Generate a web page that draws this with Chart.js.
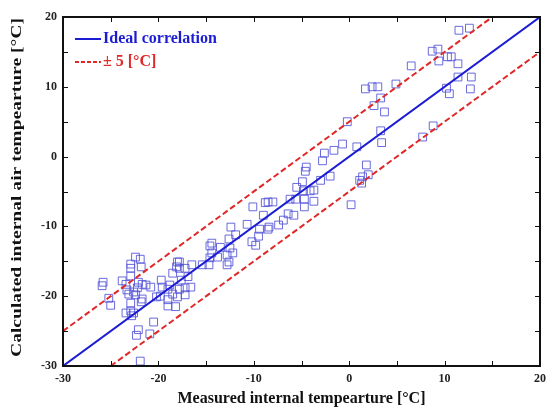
<!DOCTYPE html>
<html>
<head>
<meta charset="utf-8">
<script src="https://cdn.jsdelivr.net/npm/chart.js@4.4.1/dist/chart.umd.min.js"></script>
<style>
  html, body { margin: 0; padding: 0; background: #fff; }
  #wrap { width: 552px; height: 409px; }
</style>
</head>
<body>
<div id="wrap"><canvas id="c" width="552" height="409"></canvas></div>
<script>
// measured vs calculated internal air temperature [°C]
const measured = [
  11.5, 12.6, 8.7, 9.3, 9.4, 10.3, 10.7, 11.4, 11.4, 12.8, 10.2, 10.5, 12.7, 6.5,
  1.7, 2.4, 3.0, 4.9, 3.3, 2.6, 3.7, -0.2, 3.3, 3.4, 0.8, 7.7, 8.8, -0.7,
  -1.6, -2.6, -2.8, -4.5, -4.6, -2.0, -3.0, -4.9, -5.5, -4.8, -3.7, -4.1, -5.6, -4.7,
  -3.7, -6.2, -8.0, -8.5, -4.7, 0.2, 1.4, 1.1, 1.8, 2.0, 1.3, -5.8, -6.4, -6.9,
  -7.4, -8.4, -10.1, -8.8, -9.0, -10.7, -12.4, -11.9, -9.5, -8.5, -9.4, -9.8, -10.2, -12.6,
  -14.4, -14.6, -13.5, -12.5, -12.2, -12.8, -14.4, -14.6, -13.8, -12.6, -12.8, -15.4, -14.7, -16.5,
  -17.8, -17.8, -17.2, -16.9, -17.6, -17.2, -16.6, -17.8, -17.2, -22.4, -21.9, -22.9, -21.8, -22.9,
  -22.9, -25.8, -25.9, -23.8, -23.4, -22.1, -21.7, -21.3, -22.2, -23.3, -22.6, -20.8, -19.7, -18.8,
  -19.6, -18.0, -18.1, -18.5, -19.0, -18.5, -19.8, -23.1, -22.4, -21.7, -25.2, -25.0, -22.9, -19.0,
  -18.0, -19.0, -18.2, -22.9, -23.4, -22.6, -20.2, -22.1, -22.3, -20.9, -20.5, -21.9, -22.8, -21.8
];
const calculated = [
  18.1, 18.4, 15.1, 15.4, 13.7, 14.3, 14.3, 13.3, 11.4, 11.4, 9.8, 9.0, 9.7, 13.0,
  9.7, 10.0, 10.0, 10.4, 8.4, 7.3, 6.4, 5.0, 3.7, 2.0, 1.4, 2.8, 4.4, 1.8,
  0.9, 0.5, -0.6, -1.5, -2.1, -2.8, -3.4, -3.6, -4.4, -4.9, -4.8, -4.9, -6.1, -6.1,
  -6.4, -6.1, -6.5, -6.5, -7.2, -6.9, -2.9, -3.4, -1.2, -2.6, -3.8, -8.4, -8.2, -9.1,
  -9.8, -10.1, -7.2, -6.6, -8.4, -9.7, -10.1, -11.2, -11.4, -10.4, -10.4, -12.7, -12.2, -11.8,
  -12.4, -12.8, -13.0, -13.1, -13.8, -14.1, -13.8, -14.5, -14.4, -15.1, -15.5, -15.5, -15.5, -15.5,
  -15.1, -16.0, -16.0, -17.2, -17.7, -18.8, -18.7, -19.0, -19.8, -14.4, -14.7, -15.4, -15.8, -16.0,
  -17.1, -18.0, -18.5, -17.8, -18.3, -18.0, -18.3, -18.4, -18.8, -19.1, -19.4, -18.7, -17.7, -18.4,
  -18.7, -15.1, -15.8, -16.7, -19.0, -19.7, -20.0, -19.7, -19.8, -20.4, -20.3, -21.3, -21.0, -20.5,
  -20.1, -21.4, -21.5, -22.1, -22.4, -22.4, -20.1, -24.8, -25.6, -25.4, -23.7, -29.3, -22.8, -20.8
];

// reference lines
const idealX = [-30, 20];
const idealY = [-30, 20];
const upperX = [-30, 15];
const upperY = [-25, 20];
const lowerX = [-25, 20];
const lowerY = [-30, 15];

const axisMin = -30;
const axisMax = 20;
const tickStep = 5;
const labelStep = 10;

const xTitle = 'Measured internal tempearture [\u00b0C]';
const yTitle = 'Calculated internal air tempearture [\u00b0C]';

const serif = '"Liberation Serif", "Times New Roman", serif';
const blue = '#1c1cd4';
const red = '#e02828';
const dash = [6, 3];

function zip(xs, ys) {
  return xs.map((x, i) => ({ x: x, y: ys[i] }));
}

// frame + inward ticks on all four sides
const framePlugin = {
  id: 'frame',
  afterDraw(chart) {
    const { ctx, chartArea: a, scales } = chart;
    ctx.save();
    ctx.strokeStyle = '#111';
    ctx.lineWidth = 1;
    for (let v = axisMin; v <= axisMax; v += tickStep) {
      const px = Math.round(scales.x.getPixelForValue(v)) + 0.5;
      const py = Math.round(scales.y.getPixelForValue(v)) + 0.5;
      ctx.beginPath();
      ctx.moveTo(px, a.bottom); ctx.lineTo(px, a.bottom - 5);
      ctx.moveTo(px, a.top); ctx.lineTo(px, a.top + 5);
      ctx.moveTo(a.left, py); ctx.lineTo(a.left + 5, py);
      ctx.moveTo(a.right, py); ctx.lineTo(a.right - 5, py);
      ctx.stroke();
    }
    ctx.lineWidth = 2;
    ctx.strokeRect(a.left, a.top, a.right - a.left, a.bottom - a.top);
    ctx.restore();
  }
};

// y title: the original is stretched along its length, so draw it by hand
const yTitlePlugin = {
  id: 'yTitle',
  afterDraw(chart) {
    const { ctx, chartArea: a } = chart;
    ctx.save();
    ctx.font = 'bold 15px ' + serif;
    ctx.fillStyle = '#111';
    ctx.textAlign = 'center';
    ctx.textBaseline = 'middle';
    const w = ctx.measureText(yTitle).width;
    const stretch = (a.bottom - a.top - 10) / w;
    ctx.translate(17, (a.top + a.bottom) / 2 - 4);
    ctx.rotate(-Math.PI / 2);
    ctx.scale(stretch, 1);
    ctx.fillText(yTitle, 0, 0);
    ctx.restore();
  }
};

// legend inside the plot, top-left
const legendPlugin = {
  id: 'innerLegend',
  afterDraw(chart) {
    const { ctx, chartArea: a } = chart;
    const items = [
      { text: 'Ideal correlation', color: blue, dash: [], width: 2 },
      { text: '\u00b1 5 [\u00b0C]', color: red, dash: [4, 2], width: 2 }
    ];
    ctx.save();
    ctx.font = 'bold 16px ' + serif;
    ctx.textBaseline = 'middle';
    items.forEach((it, i) => {
      const y = a.top + 22 + i * 23;
      ctx.strokeStyle = it.color;
      ctx.lineWidth = it.width;
      ctx.setLineDash(it.dash);
      ctx.beginPath();
      ctx.moveTo(a.left + 12, y);
      ctx.lineTo(a.left + 38, y);
      ctx.stroke();
      ctx.setLineDash([]);
      ctx.fillStyle = it.color;
      ctx.fillText(it.text, a.left + 40, y);
    });
    ctx.restore();
  }
};

new Chart(document.getElementById('c'), {
  type: 'scatter',
  data: {
    datasets: [
      {
        label: 'Data',
        data: zip(measured, calculated),
        pointStyle: 'rect',
        radius: 5.5,
        backgroundColor: 'rgba(0,0,0,0)',
        borderColor: 'rgba(80,80,215,0.85)',
        borderWidth: 1,
        order: 3
      },
      {
        label: 'Ideal correlation',
        data: zip(idealX, idealY),
        showLine: true,
        borderColor: blue,
        borderWidth: 2,
        pointRadius: 0,
        order: 1
      },
      {
        label: '+5',
        data: zip(upperX, upperY),
        showLine: true,
        borderColor: red,
        borderWidth: 2,
        borderDash: dash,
        pointRadius: 0,
        order: 2
      },
      {
        label: '-5',
        data: zip(lowerX, lowerY),
        showLine: true,
        borderColor: red,
        borderWidth: 2,
        borderDash: dash,
        pointRadius: 0,
        order: 2
      }
    ]
  },
  options: {
    responsive: false,
    animation: false,
    layout: { padding: { top: 17, right: 3, left: 0, bottom: 0 } },
    plugins: {
      legend: { display: false },
      tooltip: { enabled: false }
    },
    scales: {
      x: {
        type: 'linear',
        min: axisMin,
        max: axisMax,
        grid: { display: false, drawTicks: false },
        border: { display: false },
        ticks: {
          stepSize: tickStep,
          autoSkip: false,
          maxRotation: 0,
          padding: 6,
          color: '#222',
          font: { family: serif, size: 12, weight: 'bold' },
          callback: (v) => (v % labelStep === 0 ? String(v) : '')
        },
        title: {
          display: true,
          text: xTitle,
          color: '#111',
          font: { family: serif, size: 16, weight: 'bold' },
          padding: { top: 0, bottom: 1 }
        },
        afterFit(scale) { scale.height = 43; }
      },
      y: {
        type: 'linear',
        min: axisMin,
        max: axisMax,
        grid: { display: false, drawTicks: false },
        border: { display: false },
        ticks: {
          stepSize: tickStep,
          autoSkip: false,
          padding: 6,
          color: '#222',
          font: { family: serif, size: 12, weight: 'bold' },
          callback: (v) => (v % labelStep === 0 ? String(v) : '')
        },
        title: { display: false },
        afterFit(scale) { scale.width = 63; }
      }
    }
  },
  plugins: [framePlugin, yTitlePlugin, legendPlugin]
});
</script>
</body>
</html>
